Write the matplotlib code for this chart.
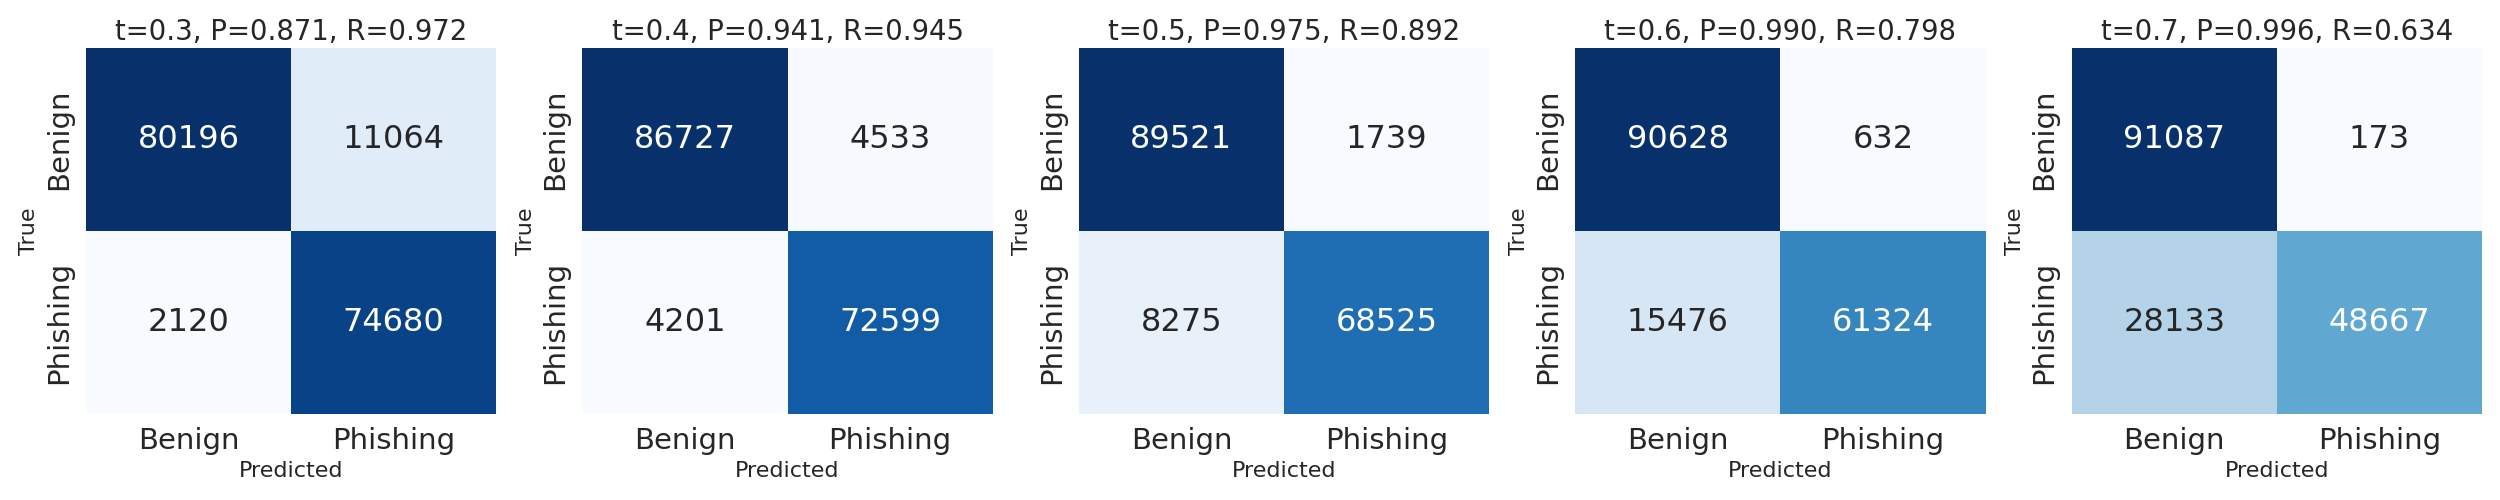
import numpy as np
import matplotlib
matplotlib.use("Agg")
import matplotlib.pyplot as plt
import seaborn as sns

classes = ["Benign", "Phishing"]
thresholds = [0.3, 0.4, 0.5, 0.6, 0.7]
precisions = [0.871, 0.941, 0.975, 0.990, 0.996]
recalls = [0.972, 0.945, 0.892, 0.798, 0.634]

# [[TN, FP], [FN, TP]] for each threshold
cm_03 = [[80196, 11064], [2120, 74680]]
cm_04 = [[86727, 4533], [4201, 72599]]
cm_05 = [[89521, 1739], [8275, 68525]]
cm_06 = [[90628, 632], [15476, 61324]]
cm_07 = [[91087, 173], [28133, 48667]]
matrices = [cm_03, cm_04, cm_05, cm_06, cm_07]

sns.set_theme(style="white")
plt.rcParams["font.family"] = ["DejaVu Sans"]

fig, axes = plt.subplots(1, 5, figsize=(25, 5), dpi=100)
fig.subplots_adjust(left=0.0344, right=0.9928, bottom=0.172, top=0.904, wspace=0.21)

for ax, cm, t, p, r in zip(axes, matrices, thresholds, precisions, recalls):
    sns.heatmap(np.array(cm), annot=True, fmt="d", cmap="Blues", cbar=False,
                xticklabels=classes, yticklabels=classes, ax=ax,
                annot_kws={"size": 23})
    ax.set_title(f"t={t}, P={p:.3f}, R={r:.3f}", fontsize=19.8)
    ax.set_xlabel("Predicted", fontsize=16)
    ax.set_ylabel("True", fontsize=16)
    ax.tick_params(axis="both", labelsize=21)

fig.savefig("out.png")
